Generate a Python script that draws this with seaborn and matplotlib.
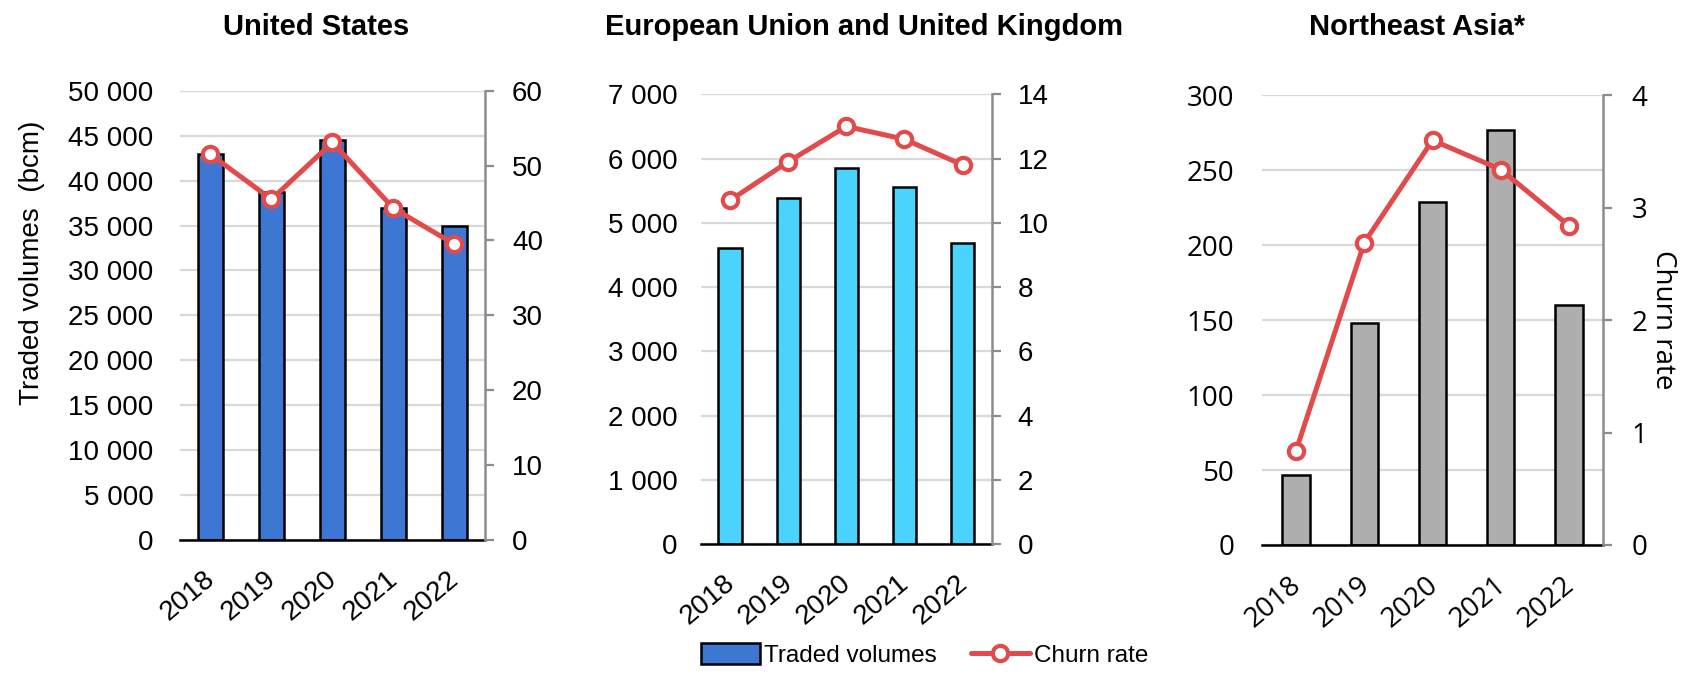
import numpy as np
import pandas as pd
import seaborn as sns
import matplotlib.pyplot as plt
from matplotlib.ticker import FuncFormatter, MultipleLocator
from matplotlib.patches import Patch
from matplotlib.lines import Line2D
from matplotlib.transforms import ScaledTranslation

sns.set_style('white')
plt.rcParams['font.family'] = ['Liberation Sans', 'DejaVu Sans']
plt.rcParams['text.color'] = 'black'
plt.rcParams['xtick.color'] = 'black'
plt.rcParams['ytick.color'] = 'black'
plt.rcParams['axes.labelcolor'] = 'black'

years = ['2018', '2019', '2020', '2021', '2022']

us_volumes = [43000, 38700, 44500, 37000, 35000]
us_churn = [51.5, 45.5, 53.1, 44.3, 39.5]

eu_volumes = [4600, 5390, 5860, 5560, 4690]
eu_churn = [10.7, 11.9, 13.0, 12.6, 11.8]

nea_volumes = [47, 148, 229, 277, 160]
nea_churn = [0.84, 2.69, 3.6, 3.34, 2.84]

titles = ['United States', 'European Union and United Kingdom', 'Northeast Asia*']
bar_colors = ['#3D77D3', '#49D3FD', '#AEAEAE']
line_color = '#E24B4B'

fs = 20

def space_thousands(v, pos):
    return f'{int(round(v)):,}'.replace(',', ' ')

fig = plt.figure(figsize=(16.88, 6.74), dpi=100)

# axes positions [left, bottom, width, height] in figure fractions
boxes = [
    [0.1066, 0.1988, 0.1807, 0.6666],
    [0.4153, 0.1929, 0.1722, 0.6672],
    [0.7476, 0.1914, 0.2021, 0.6672],
]
panels = [
    (us_volumes, us_churn, 50000, 5000, 60, 10, 'Liberation Sans', 19, 13),
    (eu_volumes, eu_churn, 7000, 1000, 14, 2, 'Liberation Sans', 17, 12),
    (nea_volumes, nea_churn, 300, 50, 4, 1, 'Open Sans', 20, 14),
]

shift = ScaledTranslation(-7 / 100, 0, fig.dpi_scale_trans)

for i, (vols, churn, ymax, ystep, cmax, cstep, tick_font, lpad, rpad) in enumerate(panels):
    ax = fig.add_axes(boxes[i])
    df = pd.DataFrame({'year': years, 'volume': vols, 'churn': churn})
    sns.barplot(data=df, x='year', y='volume', ax=ax, color=bar_colors[i],
                width=0.4, edgecolor='black', linewidth=1.8, saturation=1)
    ax.set_ylim(0, ymax)
    ax.yaxis.set_major_locator(MultipleLocator(ystep))
    ax.yaxis.set_major_formatter(FuncFormatter(space_thousands))
    ax.grid(axis='y', color='#d9d9d9', linewidth=1.6)
    ax.set_axisbelow(True)
    ax.set_xlabel('')
    ax.set_ylabel('')
    for s in ['left', 'top', 'right']:
        ax.spines[s].set_visible(False)
    ax.spines['bottom'].set_color('black')
    ax.spines['bottom'].set_linewidth(1.8)
    ax.tick_params(axis='y', length=0, pad=lpad, labelsize=fs)
    ax.tick_params(axis='x', length=0, pad=19, labelsize=fs)
    for lab in ax.get_xticklabels():
        lab.set_rotation(40)
        lab.set_ha('right')
        lab.set_rotation_mode('anchor')
        lab.set_fontfamily(tick_font)
        lab.set_transform(lab.get_transform() + shift)
    for lab in ax.get_yticklabels():
        lab.set_fontfamily(tick_font)

    ax2 = ax.twinx()
    sns.pointplot(data=df, x='year', y='churn', ax=ax2, color=line_color,
                  markers='o', linewidth=3.6, markersize=11,
                  markerfacecolor='white', markeredgecolor=line_color,
                  markeredgewidth=3)
    ax2.set_ylim(0, cmax)
    ax2.yaxis.set_major_locator(MultipleLocator(cstep))
    ax2.set_xlim(-0.5, 4.5)
    ax.set_xlim(-0.5, 4.5)
    ax2.set_ylabel('')
    ax2.set_xlabel('')
    for s in ['left', 'top', 'bottom']:
        ax2.spines[s].set_visible(False)
    ax2.spines['right'].set_color('#8c8c8c')
    ax2.spines['right'].set_linewidth(1.8)
    ax2.tick_params(axis='y', direction='out', length=6.5, width=1.6,
                    color='#8c8c8c', pad=rpad, labelsize=fs)
    for lab in ax2.get_yticklabels():
        lab.set_fontfamily(tick_font)

title_x = [0.187, 0.512, 0.8395]
for tx, t in zip(title_x, titles):
    fig.text(tx, 0.948, t, ha='center', va='baseline', fontsize=21,
             fontweight='bold', family=['Liberation Sans Narrow', 'Liberation Sans'])

fig.text(0.019, 0.61, 'Traded volumes  (bcm)', rotation=90, ha='center',
         va='center', fontsize=fs)
fig.text(0.985, 0.525, 'Churn rate', rotation=270, ha='center', va='center',
         fontsize=fs, family=['Open Sans', 'DejaVu Sans'])

handles = [
    Patch(facecolor=bar_colors[0], edgecolor='black', linewidth=1.8),
    Line2D([0], [0], color=line_color, linewidth=3.6, marker='o', markersize=11,
           markerfacecolor='white', markeredgecolor=line_color, markeredgewidth=3),
]
fig.legend(handles, ['Traded volumes', 'Churn rate'], loc='center',
           bbox_to_anchor=(0.548, 0.028), ncol=2, frameon=False, fontsize=17.5,
           handlelength=2.4, handleheight=0.9, handletextpad=0.2,
           columnspacing=1.4)

fig.savefig('out.png', dpi=100)
